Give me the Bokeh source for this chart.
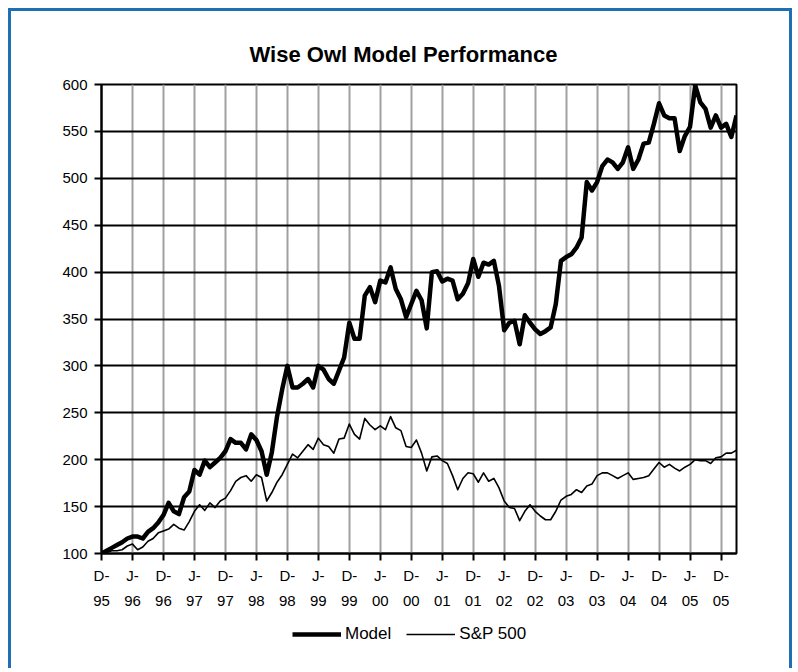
from bokeh.plotting import figure
from bokeh.layouts import column
from bokeh.models import Range1d, FixedTicker, Legend, LegendItem
from bokeh.embed import file_html
from bokeh.resources import INLINE

# month index 0 = Dec-1995 ... 123 = Mar-2006
months = list(range(124))

model = [
    100, 103, 106, 109, 112, 116, 118, 118, 116, 123,
    127, 133, 141, 154, 145, 142, 160, 166, 189, 184,
    199, 192, 197, 202, 209, 222, 218, 218, 211, 227,
    221, 209, 184, 208, 246, 275, 300, 277, 277, 281,
    286, 277, 300, 296, 286, 281, 295, 309, 346, 329,
    329, 375, 384, 368, 391, 389, 405, 382, 371, 352,
    366, 380, 370, 340, 400, 401, 390, 393, 391, 371,
    377, 388, 414, 395, 410, 408, 412, 385, 338, 346,
    348, 323, 354, 346, 339, 334, 337, 341, 366, 412,
    416, 419, 426, 437, 496, 487, 496, 513, 520, 517,
    510, 517, 533, 510, 520, 537, 538, 558, 580, 567,
    564, 564, 529, 545, 555, 599, 581, 574, 554, 567,
    554, 558, 544, 567,
]

sp500 = [
    100, 101, 103, 103, 104, 108, 110, 104, 107, 113,
    116, 122, 124, 126, 131, 127, 125, 134, 145, 152,
    146, 154, 149, 156, 159, 167, 177, 181, 183, 177,
    184, 181, 156, 165, 176, 184, 195, 206, 202, 209,
    216, 211, 223, 216, 214, 207, 222, 223, 238, 227,
    222, 244, 237, 232, 236, 232, 246, 234, 231, 214,
    213, 221, 207, 188, 203, 204, 199, 196, 183, 168,
    180, 186, 185, 176, 186, 177, 180, 170, 156, 149,
    148, 135, 145, 152, 145, 140, 136, 136, 145, 157,
    161, 163, 168, 165, 172, 174, 183, 186, 186, 183,
    180, 183, 186, 179, 180, 181, 183, 190, 197, 192,
    195, 191, 188, 192, 195, 200, 199, 199, 196, 202,
    203, 207, 207, 210,
]

tick_positions = [0, 6, 12, 18, 24, 30, 36, 42, 48, 54, 60,
                  66, 72, 78, 84, 90, 96, 102, 108, 114, 120]
tick_labels = ["D-\n95", "J-\n96", "D-\n96", "J-\n97", "D-\n97", "J-\n98",
               "D-\n98", "J-\n99", "D-\n99", "J-\n00", "D-\n00", "J-\n01",
               "D-\n01", "J-\n02", "D-\n02", "J-\n03", "D-\n03", "J-\n04",
               "D-\n04", "J-\n05", "D-\n05"]
y_ticks = [100, 150, 200, 250, 300, 350, 400, 450, 500, 550, 600]
series_names = ["Model", "S&P 500"]

FONT = "Liberation Sans"
BLUE = "#1f6fb4"
BORDER = f"3px solid {BLUE}"
MODEL_W = 4.5
SP_W = 1.6

p = figure(width=784, height=604, output_backend="svg", toolbar_location=None,
           x_range=Range1d(0, 123), y_range=Range1d(100, 600),
           min_border_left=90, min_border_right=59, min_border_top=73,
           min_border_bottom=62)
p.styles = {"margin-left": "8px", "margin-top": "8px",
            "border-top": BORDER, "border-left": BORDER, "border-right": BORDER}

p.background_fill_color = "white"
p.border_fill_color = "white"
p.outline_line_color = "black"
p.outline_line_width = 2

p.title.text = "Wise Owl Model Performance"
p.title.text_font = FONT
p.title.text_font_style = "bold"
p.title.text_font_size = "22px"
p.title.text_color = "black"
p.title.align = "left"
p.title.offset = 148
p.title.standoff = 35

p.line(months, model, line_color="black", line_width=MODEL_W, line_join="round")
p.line(months, sp500, line_color="black", line_width=SP_W, line_join="round")

for ax in (p.xaxis[0], p.yaxis[0]):
    ax.axis_line_color = "black"
    ax.axis_line_width = 2
    ax.major_tick_line_color = "black"
    ax.major_tick_line_width = 2
    ax.major_tick_out = 7
    ax.major_tick_in = 0
    ax.minor_tick_line_color = None
    ax.major_label_text_font = FONT
    ax.major_label_text_font_size = "15px"
    ax.major_label_text_color = "black"

p.xaxis.ticker = FixedTicker(ticks=tick_positions)
p.xaxis.major_label_overrides = {t: l for t, l in zip(tick_positions, tick_labels)}
p.xaxis.major_label_text_line_height = 1.5
p.xaxis.major_label_standoff = 6
p.yaxis.ticker = FixedTicker(ticks=y_ticks)
p.yaxis.major_label_standoff = 7

p.ygrid.grid_line_color = "black"
p.ygrid.grid_line_width = 2
p.xgrid.grid_line_color = "#a0a0a0"
p.xgrid.grid_line_width = 2

# legend strip below the chart (its lines fall outside its own ranges; only the key shows)
q = figure(width=784, height=56, output_backend="svg", toolbar_location=None,
           x_range=Range1d(0, 1), y_range=Range1d(-2, -1),
           x_axis_location=None, y_axis_location=None,
           min_border_left=0, min_border_right=0, min_border_top=0,
           min_border_bottom=0)
q.styles = {"margin-left": "8px", "border-left": BORDER, "border-right": BORDER}
q.outline_line_color = None
q.grid.visible = False
q.background_fill_color = "white"
q.border_fill_color = "white"
lm = q.line(months, model, line_color="black", line_width=MODEL_W)
ls = q.line(months, sp500, line_color="black", line_width=SP_W)

legend = Legend(items=[LegendItem(label=series_names[0], renderers=[lm]),
                       LegendItem(label=series_names[1], renderers=[ls])],
                orientation="horizontal", location=(191, 24))
legend.border_line_color = None
legend.background_fill_alpha = 0
legend.label_text_font = FONT
legend.label_text_font_size = "17px"
legend.label_text_color = "black"
legend.glyph_width = 49
legend.label_standoff = 4
legend.spacing = 15
legend.margin = 0
legend.padding = 4
q.add_layout(legend, "center")

layout = column(p, q, spacing=0)
open("out.html", "w").write(file_html(layout, INLINE))
